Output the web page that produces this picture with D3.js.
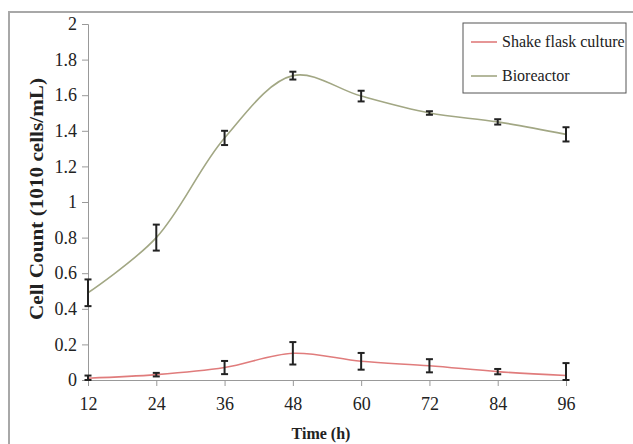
<!DOCTYPE html>
<html>
<head>
<meta charset="utf-8">
<script src="https://cdn.jsdelivr.net/npm/d3@7"></script>
<style>
  body { margin: 0; background: #fff; }
  svg text { font-family: 'Liberation Serif', 'Times New Roman', Times, serif; fill: #222; }
</style>
</head>
<body>
<div id="chart"></div>
<script>
// data
const hours = [12, 24, 36, 48, 60, 72, 84, 96];
const shakeFlask = [0.01, 0.03, 0.07, 0.15, 0.105, 0.08, 0.047, 0.025];
const shakeFlaskErr = [0.015, 0.01, 0.037, 0.063, 0.047, 0.037, 0.015, 0.07];
const bioreactor = [0.49, 0.80, 1.36, 1.71, 1.595, 1.50, 1.45, 1.38];
const bioreactorErr = [0.075, 0.073, 0.04, 0.022, 0.03, 0.01, 0.015, 0.04];
const yTicks = [0, 0.2, 0.4, 0.6, 0.8, 1, 1.2, 1.4, 1.6, 1.8, 2];

const width = 633, height = 444;
const margin = {left: 88, right: 67, top: 24, bottom: 64};

const series = [
    {name: 'Shake flask culture', values: shakeFlask, err: shakeFlaskErr, color: '#e07c7c'},
    {name: 'Bioreactor', values: bioreactor, err: bioreactorErr, color: '#a2a784'}
];

const svg = d3.select('#chart')
    .append('svg')
    .attr('width', width)
    .attr('height', height);

// outer frame (only top and left edges visible)
svg.append('path')
    .attr('d', `M9,${height} V12 H${width}`)
    .attr('fill', 'none')
    .attr('stroke', '#a8a8a8')
    .attr('stroke-width', 2);

const x = d3.scaleLinear()
    .domain([12, 96])
    .range([margin.left, width - margin.right]);

const y = d3.scaleLinear()
    .domain([0, 2])
    .range([height - margin.bottom, margin.top])
    .clamp(true);

// y axis
const yAxis = svg.append('g')
    .attr('transform', `translate(${margin.left},0)`)
    .call(d3.axisLeft(y).tickValues(yTicks).tickSize(6).tickPadding(5)
        .tickFormat(d => d3.format('~g')(d)));
yAxis.attr('font-family', null).attr('font-size', 18);
yAxis.select('.domain').attr('stroke', '#999');
yAxis.selectAll('.tick line').attr('stroke', '#999');
yAxis.selectAll('text').attr('fill', '#222');

// x axis
const xAxis = svg.append('g')
    .attr('transform', `translate(0,${y(0)})`)
    .call(d3.axisBottom(x).tickValues(hours).tickSize(6).tickPadding(11).tickSizeOuter(0));
xAxis.attr('font-family', null).attr('font-size', 18);
xAxis.select('.domain').attr('stroke', '#999');
xAxis.selectAll('.tick line').attr('stroke', '#999');
xAxis.selectAll('text').attr('fill', '#222');

// smooth lines
const line = d3.line()
    .x((d, i) => x(hours[i]))
    .y(d => y(d))
    .curve(d3.curveCatmullRom.alpha(0.5));

series.forEach(s => {
    svg.append('path')
        .datum(s.values)
        .attr('fill', 'none')
        .attr('stroke', s.color)
        .attr('stroke-width', 1.6)
        .attr('d', line);
});

// error bars
const cap = 3.5;
series.forEach(s => {
    const g = svg.append('g')
        .attr('stroke', '#222')
        .attr('stroke-width', 2);
    s.values.forEach((v, i) => {
        const cx = x(hours[i]);
        const y1 = y(v + s.err[i]);
        const y2 = y(v - s.err[i]);
        g.append('line').attr('x1', cx).attr('x2', cx).attr('y1', y1).attr('y2', y2);
        g.append('line').attr('x1', cx - cap).attr('x2', cx + cap).attr('y1', y1).attr('y2', y1);
        g.append('line').attr('x1', cx - cap).attr('x2', cx + cap).attr('y1', y2).attr('y2', y2);
    });
});

// axis titles
svg.append('text')
    .attr('x', 321)
    .attr('y', 439)
    .attr('text-anchor', 'middle')
    .attr('font-weight', 'bold')
    .attr('font-size', 16)
    .text('Time (h)');

svg.append('text')
    .attr('transform', 'translate(43,199) rotate(-90)')
    .attr('text-anchor', 'middle')
    .attr('font-weight', 'bold')
    .attr('font-size', 18)
    .attr('textLength', 242)
    .attr('lengthAdjust', 'spacingAndGlyphs')
    .text('Cell Count (1010 cells/mL)');

// legend
const legend = svg.append('g').attr('transform', 'translate(463,23)');
legend.append('rect')
    .attr('width', 163)
    .attr('height', 70)
    .attr('fill', '#fff')
    .attr('stroke', '#555')
    .attr('stroke-width', 1);

series.forEach((s, i) => {
    const ly = 19 + i * 34;
    legend.append('line')
        .attr('x1', 8).attr('x2', 34)
        .attr('y1', ly).attr('y2', ly)
        .attr('stroke', s.color)
        .attr('stroke-width', 1.6);
    legend.append('text')
        .attr('x', 39)
        .attr('y', ly + 5)
        .attr('font-size', 16)
        .text(s.name);
});
</script>
</body>
</html>
